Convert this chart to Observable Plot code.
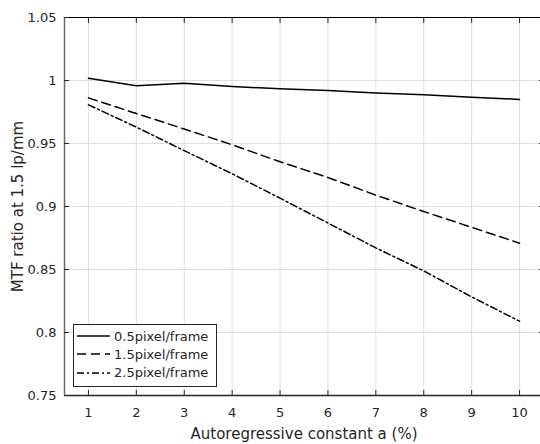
<!DOCTYPE html>
<html>
<head>
<meta charset="utf-8">
<script src="https://cdn.jsdelivr.net/npm/d3@7"></script>
<script src="https://cdn.jsdelivr.net/npm/@observablehq/plot@0.6"></script>
<style>
  html, body { margin: 0; padding: 0; background: #fff; }
  #wrap { position: relative; width: 540px; height: 444px; font-family: "DejaVu Sans", sans-serif; }
  #legend { position: absolute; left: 73px; top: 324px; width: 144px; height: 63px; border: 1px solid #262626; background: #fff; box-sizing: border-box; font-size: 13px; color: #262626; }
  #legend .row { position: absolute; left: 0; height: 18px; display: flex; align-items: center; }
  #legend svg { display: block; }
  #legend span { margin-left: 3px; white-space: nowrap; }
</style>
</head>
<body>
<div id="wrap"></div>
<script>
const xValues = [1, 2, 3, 4, 5, 6, 7, 8, 9, 10];
const series05 = [1.0017, 0.9958, 0.9978, 0.9952, 0.9934, 0.9920, 0.9901, 0.9887, 0.9868, 0.9850];
const series15 = [0.9862, 0.9738, 0.9615, 0.9490, 0.9355, 0.9230, 0.9090, 0.8960, 0.8835, 0.8709];
const series25 = [0.9807, 0.9630, 0.9443, 0.9260, 0.9066, 0.8869, 0.8671, 0.8489, 0.8282, 0.8090];
const seriesNames = ["0.5pixel/frame", "1.5pixel/frame", "2.5pixel/frame"];
const dashes = [null, "9,5", "7,3,2,3"];
const xTicks = [1, 2, 3, 4, 5, 6, 7, 8, 9, 10];
const yTicks = [0.75, 0.8, 0.85, 0.9, 0.95, 1, 1.05];
const yTickLabels = ["0.75", "0.8", "0.85", "0.9", "0.95", "1", "1.05"];
const xLabel = "Autoregressive constant a (%)";
const yLabel = "MTF ratio at 1.5 lp/mm";

const allSeries = [series05, series15, series25];
const rows = allSeries.flatMap((s, k) => s.map((v, i) => ({x: xValues[i], y: v, name: seriesNames[k]})));

const axisColor = "#262626";
const gridColor = "#dedede";

const chart = Plot.plot({
  width: 540,
  height: 444,
  marginLeft: 64,
  marginTop: 17,
  marginBottom: 49,
  marginRight: -3,
  style: {fontFamily: "'DejaVu Sans', sans-serif", background: "#fff", color: axisColor},
  x: {domain: [0.5, 10.5]},
  y: {domain: [0.75, 1.05]},
  marks: [
    Plot.ruleX(xTicks, {stroke: gridColor, strokeWidth: 1}),
    Plot.ruleY(yTicks, {stroke: gridColor, strokeWidth: 1}),
    ...allSeries.map((s, k) => Plot.line(rows.filter(d => d.name === seriesNames[k]), {
      x: "x", y: "y", stroke: "#000", strokeWidth: 1.5,
      strokeDasharray: dashes[k], strokeLinejoin: "round"
    })),
    Plot.ruleY([1.05], {stroke: "#000", strokeWidth: 1}),
    Plot.ruleY([0.75], {stroke: axisColor, strokeWidth: 1.3}),
    Plot.ruleX([0.5], {stroke: "#6a6a6a", strokeWidth: 1.5}),
    Plot.ruleX([10.5], {stroke: axisColor, strokeWidth: 1}),
    Plot.axisX({anchor: "bottom", ticks: xTicks, tickSize: -5, tickPadding: 17, fontSize: 13, label: null, stroke: axisColor, fill: axisColor}),
    Plot.axisX({anchor: "top", ticks: xTicks, tickSize: -5, tickFormat: () => "", label: null, stroke: axisColor}),
    Plot.axisY({anchor: "left", ticks: yTicks, tickSize: -5, tickPadding: 13, fontSize: 13, label: null,
      tickFormat: (d) => yTickLabels[yTicks.findIndex(t => Math.abs(t - d) < 1e-9)], stroke: axisColor, fill: axisColor}),
    Plot.axisY({anchor: "right", ticks: yTicks, tickSize: -5, tickFormat: () => "", label: null, stroke: axisColor}),
    Plot.text([xLabel], {frameAnchor: "bottom", textAnchor: "middle", lineAnchor: "middle", dy: 39, fontSize: 15, fill: axisColor}),
    Plot.text([yLabel], {frameAnchor: "left", textAnchor: "middle", lineAnchor: "middle", dx: -46.5, rotate: -90, fontSize: 15, fill: axisColor})
  ]
});

const wrap = document.getElementById("wrap");
wrap.appendChild(chart);

const legend = document.createElement("div");
legend.id = "legend";
seriesNames.forEach((name, k) => {
  const row = document.createElement("div");
  row.className = "row";
  row.style.top = (2 + k * 18.3) + "px";
  row.innerHTML = `<svg width="37" height="18"><line x1="3" x2="36" y1="9" y2="9" stroke="#000" stroke-width="1.5" ${dashes[k] ? `stroke-dasharray="${dashes[k]}"` : ""}/></svg><span>${name}</span>`;
  legend.appendChild(row);
});
wrap.appendChild(legend);
</script>
</body>
</html>
